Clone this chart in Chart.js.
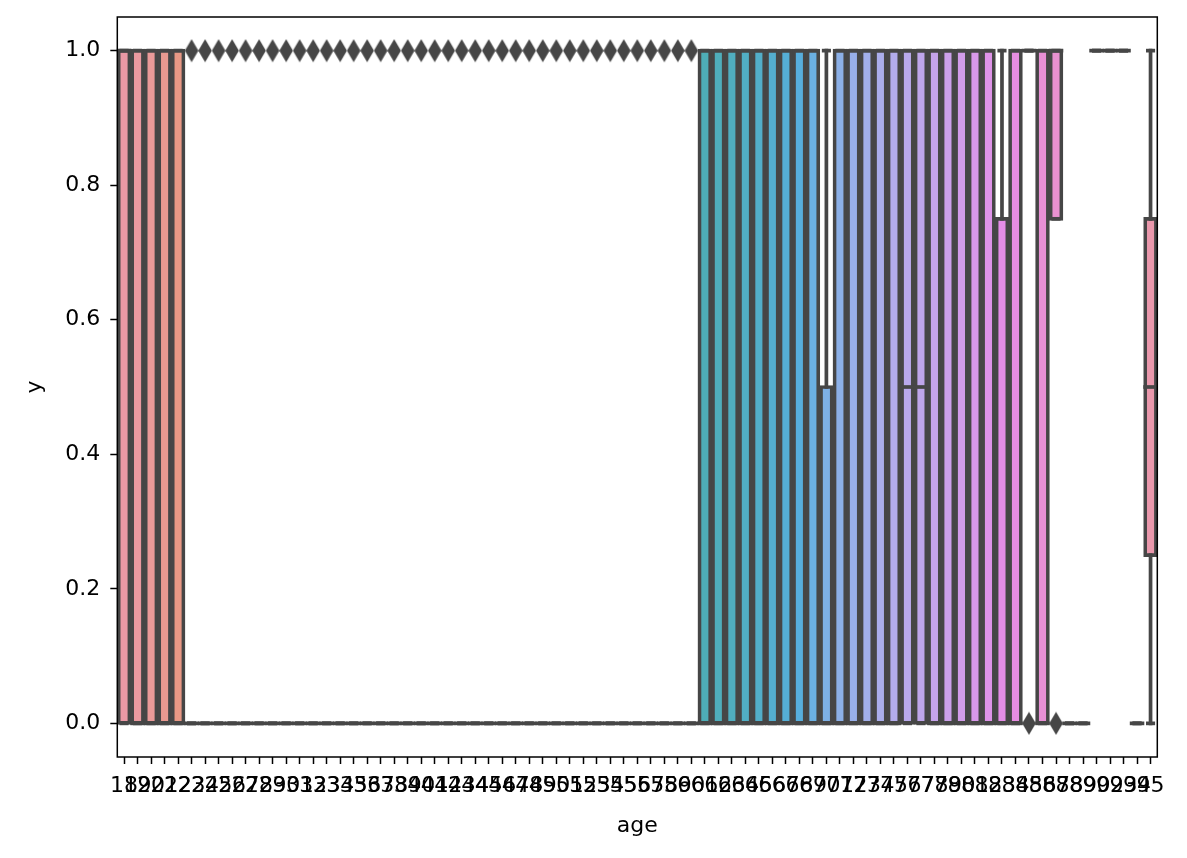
<!DOCTYPE html>
<html>
<head>
<meta charset="utf-8">
<script src="https://cdn.jsdelivr.net/npm/chart.js@4.4.1/dist/chart.umd.min.js"></script>
<style>
  html, body { margin: 0; padding: 0; background: #ffffff; }
  #wrap { width: 1187px; height: 858px; position: relative; }
</style>
</head>
<body>
<div id="wrap"><canvas id="c" width="1187" height="858"></canvas></div>
<script>
// ---------- DATA ----------
const ages = [
  '18','19','20','21','22','23','24','25','26','27',
  '28','29','30','31','32','33','34','35','36','37',
  '38','39','40','41','42','43','44','45','46','47',
  '48','49','50','51','52','53','54','55','56','57',
  '58','59','60','61','62','63','64','65','66','67',
  '68','69','70','71','72','73','74','75','76','77',
  '78','79','80','81','82','83','84','85','86','87',
  '88','89','90','92','93','94','95'
];
// lower quartile
const q1 = [
  0,0,0,0,0,0,0,0,0,0,
  0,0,0,0,0,0,0,0,0,0,
  0,0,0,0,0,0,0,0,0,0,
  0,0,0,0,0,0,0,0,0,0,
  0,0,0,0,0,0,0,0,0,0,
  0,0,0,0,0,0,0,0,0,0,
  0,0,0,0,0,0,0,1,0,0.75,
  0,0,1,1,1,0,0.25
];
// median
const med = [
  1,0,0,0,0,0,0,0,0,0,
  0,0,0,0,0,0,0,0,0,0,
  0,0,0,0,0,0,0,0,0,0,
  0,0,0,0,0,0,0,0,0,0,
  0,0,0,0,0,0,0,0,0,0,
  0,0,0,0,0,0,0,0,0.5,0.5,
  0,0,0,0,0,0,0,1,0,1,
  0,0,1,1,1,0,0.5
];
// upper quartile
const q3 = [
  1,1,1,1,1,0,0,0,0,0,
  0,0,0,0,0,0,0,0,0,0,
  0,0,0,0,0,0,0,0,0,0,
  0,0,0,0,0,0,0,0,0,0,
  0,0,0,1,1,1,1,1,1,1,
  1,1,0.5,1,1,1,1,1,1,1,
  1,1,1,1,1,0.75,1,1,1,1,
  0,0,1,1,1,0,0.75
];
// whisker ends
const whisLo = [
  0,0,0,0,0,0,0,0,0,0,
  0,0,0,0,0,0,0,0,0,0,
  0,0,0,0,0,0,0,0,0,0,
  0,0,0,0,0,0,0,0,0,0,
  0,0,0,0,0,0,0,0,0,0,
  0,0,0,0,0,0,0,0,0,0,
  0,0,0,0,0,0,0,1,0,0.75,
  0,0,1,1,1,0,0
];
const whisHi = [
  1,1,1,1,1,0,0,0,0,0,
  0,0,0,0,0,0,0,0,0,0,
  0,0,0,0,0,0,0,0,0,0,
  0,0,0,0,0,0,0,0,0,0,
  0,0,0,1,1,1,1,1,1,1,
  1,1,1,1,1,1,1,1,1,1,
  1,1,1,1,1,1,1,1,1,1,
  0,0,1,1,1,0,1
];
// outliers (one value per age where present)
const fliers = [
  null,null,null,null,null,1,1,1,1,1,
  1,1,1,1,1,1,1,1,1,1,
  1,1,1,1,1,1,1,1,1,1,
  1,1,1,1,1,1,1,1,1,1,
  1,1,1,null,null,null,null,null,null,null,
  null,null,null,null,null,null,null,null,null,null,
  null,null,null,null,null,null,null,0,null,0,
  null,null,null,null,null,null,null
];
const yTickValues = [0, 0.2, 0.4, 0.6, 0.8, 1.0];
const yTickLabels = ['0.0', '0.2', '0.4', '0.6', '0.8', '1.0'];

// ---------- seaborn-like husl palette ----------
function huslToRgb(h, s, l) {
  const M = [[3.2406,-1.5372,-0.4986],[-0.9689,1.8758,0.0415],[0.0557,-0.2040,1.0570]];
  const refU = 0.19784, refV = 0.46834, labE = 0.008856, labK = 903.3;
  function maxChroma(L, H) {
    const hr = H / 360 * 2 * Math.PI, sinH = Math.sin(hr), cosH = Math.cos(hr);
    const sub1 = Math.pow(L + 16, 3) / 1560896;
    const sub2 = sub1 > labE ? sub1 : L / labK;
    let res = Infinity;
    for (const [m1, m2, m3] of M) {
      const top = (0.99915 * m1 + 1.05122 * m2 + 1.14460 * m3) * sub2;
      const rb = 0.86330 * m3 - 0.17266 * m2;
      const lb = 0.12949 * m3 - 0.38848 * m1;
      const bottom = (rb * sinH + lb * cosH) * sub2;
      for (const t of [0, 1]) {
        const C = L * (top - 1.05122 * t) / (bottom + 0.17266 * sinH * t);
        if (C > 0 && C < res) res = C;
      }
    }
    return res;
  }
  const L = l;
  if (L > 99.9999999) return [1, 1, 1];
  if (L < 1e-8) return [0, 0, 0];
  const C = maxChroma(L, h) / 100 * s;
  const hr = h / 360 * 2 * Math.PI;
  const U = Math.cos(hr) * C, V = Math.sin(hr) * C;
  const fInv = t => (Math.pow(t, 3) > labE ? Math.pow(t, 3) : (116 * t - 16) / labK);
  const Y = fInv((L + 16) / 116);
  const varU = U / (13 * L) + refU, varV = V / (13 * L) + refV;
  const X = 0 - (9 * Y * varU) / ((varU - 4) * varV - varU * varV);
  const Z = (9 * Y - 15 * varV * Y - varV * X) / (3 * varV);
  return M.map(r => {
    const c = r[0] * X + r[1] * Y + r[2] * Z;
    const v = c <= 0.0031308 ? 12.92 * c : 1.055 * Math.pow(c, 1 / 2.4) - 0.055;
    return Math.min(1, Math.max(0, v));
  });
}
function rgbToHls(r, g, b) {
  const maxc = Math.max(r, g, b), minc = Math.min(r, g, b);
  const l = (maxc + minc) / 2;
  if (maxc === minc) return [0, l, 0];
  const rc = maxc - minc;
  const s = l <= 0.5 ? rc / (maxc + minc) : rc / (2 - maxc - minc);
  const rr = (maxc - r) / rc, gg = (maxc - g) / rc, bb = (maxc - b) / rc;
  let h;
  if (r === maxc) h = bb - gg; else if (g === maxc) h = 2 + rr - bb; else h = 4 + gg - rr;
  h = ((h / 6) % 1 + 1) % 1;
  return [h, l, s];
}
function hlsToRgb(h, l, s) {
  if (s === 0) return [l, l, l];
  const m2 = l <= 0.5 ? l * (1 + s) : l + s - l * s;
  const m1 = 2 * l - m2;
  const v = (hue) => {
    hue = ((hue % 1) + 1) % 1;
    if (hue < 1 / 6) return m1 + (m2 - m1) * hue * 6;
    if (hue < 0.5) return m2;
    if (hue < 2 / 3) return m1 + (m2 - m1) * (2 / 3 - hue) * 6;
    return m1;
  };
  return [v(h + 1 / 3), v(h), v(h - 1 / 3)];
}
const toHex = c => '#' + c.map(v => Math.round(v * 255).toString(16).padStart(2, '0')).join('');
const nCol = ages.length;
const palRgb = [];
for (let i = 0; i < nCol; i++) {
  const hue = (i / nCol + 0.01) % 1;
  const rgb = huslToRgb(hue * 359, 0.9 * 99, 0.7 * 100);
  const [hh, ll, ss] = rgbToHls(...rgb);
  palRgb.push(hlsToRgb(hh, ll, ss * 0.75));
}
const palette = palRgb.map(toHex);
const lum = Math.min(...palRgb.map(c => rgbToHls(...c)[1])) * 0.6;
const gray = toHex([lum, lum, lum]);

// ---------- styles ----------
const LW = 3.7;
const FONT = { family: 'DejaVu Sans', size: 22 };

// thin diamond marker
const diamond = document.createElement('canvas');
diamond.width = 14; diamond.height = 24;
(function () {
  const d = diamond.getContext('2d');
  d.fillStyle = gray;
  d.beginPath();
  d.moveTo(7, 0.5); d.lineTo(13.8, 12); d.lineTo(7, 23.5); d.lineTo(0.2, 12); d.closePath();
  d.fill();
})();

const boxExtras = {
  id: 'boxExtras',
  afterDatasetDraw(chart, args) {
    if (args.index !== 0) return;
    const ctx = chart.ctx, ys = chart.scales.y;
    const meta = chart.getDatasetMeta(0);
    ctx.save();
    ctx.strokeStyle = gray;
    ctx.lineWidth = LW;
    ctx.lineCap = 'square';
    const seg = (x1, y1, x2, y2) => { ctx.beginPath(); ctx.moveTo(x1, y1); ctx.lineTo(x2, y2); ctx.stroke(); };
    meta.data.forEach((bar, i) => {
      const x = bar.x, half = bar.width / 2;
      const pq1 = ys.getPixelForValue(q1[i]), pq3 = ys.getPixelForValue(q3[i]);
      const plo = ys.getPixelForValue(whisLo[i]), phi = ys.getPixelForValue(whisHi[i]);
      if (whisHi[i] !== q3[i]) seg(x, pq3, x, phi);
      if (whisLo[i] !== q1[i]) seg(x, pq1, x, plo);
      seg(x - half / 2, phi, x + half / 2, phi);
      seg(x - half / 2, plo, x + half / 2, plo);
      const pm = ys.getPixelForValue(med[i]);
      seg(x - half, pm, x + half, pm);
    });
    ctx.restore();
  },
  afterDraw(chart) {
    const { ctx, chartArea: a } = chart;
    ctx.save();
    ctx.strokeStyle = '#000';
    ctx.lineWidth = 1.5;
    ctx.strokeRect(a.left, a.top, a.right - a.left, a.bottom - a.top);
    ctx.restore();
  }
};

new Chart(document.getElementById('c'), {
  type: 'bar',
  data: {
    labels: ages,
    datasets: [
      {
        type: 'bar',
        order: 1,
        data: ages.map((_, i) => [q1[i], q3[i]]),
        backgroundColor: ages.map((_, i) => (q1[i] === q3[i] ? gray : palette[i])),
        borderColor: gray,
        borderWidth: LW,
        borderSkipped: false,
        inflateAmount: LW / 2,
        barPercentage: 0.8,
        categoryPercentage: 1.0
      },
      {
        type: 'line',
        order: 0,
        data: fliers,
        showLine: false,
        pointStyle: diamond,
        pointRadius: 6,
        pointHoverRadius: 6,
        borderColor: gray,
        backgroundColor: gray
      }
    ]
  },
  options: {
    responsive: false,
    animation: false,
    devicePixelRatio: 1,
    events: [],
    layout: { padding: { left: 0, right: 29.7, top: 17, bottom: 0 } },
    plugins: { legend: { display: false }, tooltip: { enabled: false } },
    scales: {
      x: {
        type: 'category',
        offset: true,
        afterFit: (s) => { s.height = 101; s.paddingLeft = 0; s.paddingRight = 0; },
        grid: { display: true, offset: false, drawOnChartArea: false, drawTicks: true, tickLength: 7, tickWidth: 1.5, tickColor: '#000' },
        border: { display: false },
        ticks: { autoSkip: false, maxRotation: 0, minRotation: 0, color: '#000', font: FONT, padding: 9 },
        title: { display: true, text: 'age', color: '#000', font: FONT, padding: { top: 0, bottom: 19 } }
      },
      y: {
        type: 'linear',
        min: -0.05,
        max: 1.05,
        afterFit: (s) => { s.width = 117.3; s.paddingTop = 0; s.paddingBottom = 0; },
        afterBuildTicks: (s) => { s.ticks = yTickValues.map(v => ({ value: v })); },
        grid: { display: true, drawOnChartArea: false, drawTicks: true, tickLength: 7, tickWidth: 1.5, tickColor: '#000' },
        border: { display: false },
        ticks: { color: '#000', font: FONT, padding: 10, callback: (v, idx) => yTickLabels[idx] },
        title: { display: true, text: 'y', color: '#000', font: FONT, padding: { top: 22, bottom: 0 } }
      }
    }
  },
  plugins: [boxExtras]
});
</script>
</body>
</html>
